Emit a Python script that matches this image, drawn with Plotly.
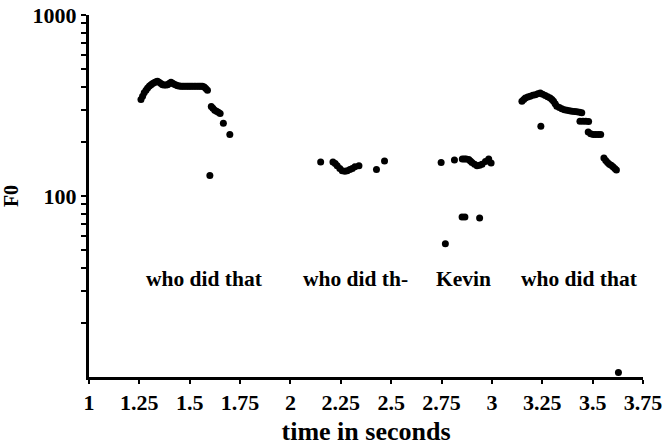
import math
import plotly.graph_objects as go

# phrase 1: "who did that"
t1 = [1.258, 1.266, 1.274, 1.283, 1.291, 1.300, 1.308, 1.316, 1.325, 1.333, 1.340, 1.348, 1.357,
      1.365, 1.373, 1.382, 1.390, 1.398, 1.407, 1.415, 1.423, 1.432, 1.440, 1.448, 1.456, 1.464,
      1.472, 1.481, 1.489, 1.497, 1.505, 1.513, 1.522, 1.530, 1.539, 1.547, 1.555, 1.563, 1.572,
      1.580, 1.588, 1.600, 1.607, 1.615, 1.624, 1.633, 1.642, 1.651, 1.667, 1.699]
f1 = [341, 356, 372, 384, 395, 405, 412, 418, 424, 428, 430, 425, 418,
      412, 410, 410, 412, 418, 425, 420, 414, 410, 407, 405, 404, 404,
      404, 404, 404, 404, 404, 404, 404, 404, 404, 404, 404, 404, 400,
      392, 384, 130, 312, 305, 298, 294, 290, 286, 252, 219]

# phrase 2: "who did th-"
t2 = [2.150, 2.211, 2.222, 2.232, 2.245, 2.257, 2.270, 2.282, 2.295, 2.307, 2.320, 2.340, 2.427, 2.467]
f2 = [154, 154, 151, 147, 142, 138, 137, 138, 140, 142, 145, 147, 140, 156]

# "Kevin"
t3 = [2.748, 2.814, 2.853, 2.863, 2.872, 2.885, 2.893, 2.901, 2.914, 2.926, 2.939, 2.951, 2.968,
      2.984, 2.996, 2.852, 2.866, 2.939, 2.769]
f3 = [153, 158, 160, 160, 160, 159, 156, 153, 150, 147, 148, 150, 155,
      160, 152, 76.5, 76.5, 75.7, 54.5]

# phrase 3: "who did that"
t4 = [3.149, 3.158, 3.166, 3.178, 3.190, 3.203, 3.215, 3.228, 3.240, 3.252, 3.265, 3.277, 3.289,
      3.298, 3.306, 3.314, 3.322, 3.335, 3.347, 3.360, 3.372, 3.385, 3.397, 3.410, 3.422, 3.435,
      3.446, 3.437, 3.452, 3.466, 3.480, 3.478, 3.490, 3.503, 3.515, 3.528, 3.540,
      3.556, 3.565, 3.574, 3.583, 3.592, 3.601, 3.610, 3.618, 3.243, 3.628]
f4 = [334, 341, 348, 352, 356, 360, 363, 367, 371, 365, 359, 353, 348,
      341, 334, 323, 313, 308, 303, 300, 298, 296, 294, 293, 292, 290,
      288, 259, 259, 259, 258, 226, 221, 219, 219, 219, 219,
      162, 157, 153, 150, 148, 145, 142, 139, 243, 10.6]

labels = ["who did that", "who did th-", "Kevin", "who did that"]
label_x = [1.575, 2.323, 2.858, 3.433]
label_f0 = 35

x_ticks = [1, 1.25, 1.5, 1.75, 2, 2.25, 2.5, 2.75, 3, 3.25, 3.5, 3.75]
x_ticktext = ["1", "1.25", "1.5", "1.75", "2", "2.25", "2.5", "2.75", "3", "3.25", "3.5", "3.75"]
y_ticks = [100, 1000]
y_ticktext = ["100", "1000"]
y_minor = [20, 30, 40, 50, 60, 70, 80, 90, 200, 300, 400, 500, 600, 700, 800, 900]

fig = go.Figure()
for tx, fy in [(t1, f1), (t2, f2), (t3, f3), (t4, f4)]:
    fig.add_trace(go.Scatter(x=tx, y=fy, mode="markers",
                             marker=dict(color="black", size=7),
                             cliponaxis=False, showlegend=False))

for lx, lt in zip(label_x, labels):
    fig.add_annotation(x=lx, y=math.log10(label_f0), xref="x", yref="y", text="<b>%s</b>" % lt,
                       showarrow=False, font=dict(size=21.5, color="black"))

font_family = "Liberation Serif, Times New Roman, serif"
fig.update_layout(
    width=662, height=446,
    margin=dict(l=89, r=19, t=15, b=69),
    paper_bgcolor="white", plot_bgcolor="white",
    font=dict(family=font_family, color="black", size=21, weight="bold"),
    showlegend=False,
)
fig.update_xaxes(range=[1, 3.75], tickmode="array", tickvals=x_ticks, ticktext=x_ticktext,
                 automargin=False, ticklabeloverflow="allow",
                 showgrid=False, zeroline=False, showline=True, linewidth=3, linecolor="black",
                 ticks="outside", ticklen=4, tickwidth=2, tickcolor="black",
                 tickfont=dict(size=22, weight="bold"),
                 title=dict(text="<b>time in seconds</b>", font=dict(size=26), standoff=11))
fig.update_yaxes(type="log", range=[1, 3], tickmode="array", tickvals=y_ticks, ticktext=y_ticktext,
                 automargin=False, ticklabeloverflow="allow",
                 showgrid=False, zeroline=False, showline=True, linewidth=3, linecolor="black",
                 ticks="outside", ticklen=5, tickwidth=2, tickcolor="black",
                 tickfont=dict(size=22, weight="bold"),
                 minor=dict(tickmode="array", tickvals=y_minor, ticks="outside", ticklen=5,
                            tickwidth=2, tickcolor="black", showgrid=False),
                 title=dict(text="<b>F0</b>", font=dict(size=20), standoff=19))

# remove the browser's default 8px page margin so the figure fills the window exactly
fig.write_html("out.html", config={"displayModeBar": False},
               post_script="document.body.style.margin='0';")
